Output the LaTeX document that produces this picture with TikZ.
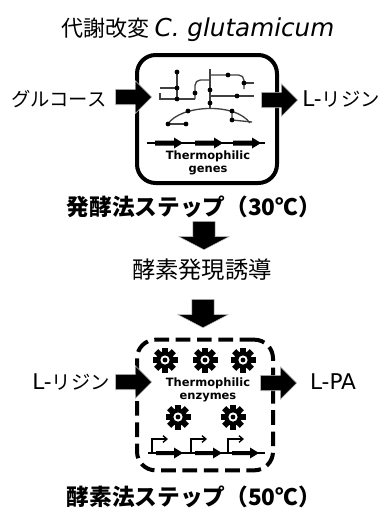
\documentclass[tikz,border=0pt]{standalone}
\usepackage{fontspec}
\usetikzlibrary{positioning, arrows.meta, shapes.arrows}
\newfontfamily\jpfont{Noto Sans CJK JP}
\newfontfamily\latfont{DejaVu Sans}[Scale=1.12]
\newfontfamily\thermofont{DejaVu Sans}

\tikzset{
  cellbox/.style={draw, line width=3pt, rounded corners=14pt, inner sep=0pt},
  fatarrow/.style={single arrow, fill=black, draw=black!25, line width=0.4pt,
    inner sep=5.6pt, single arrow head extend=6.4pt, minimum height=27pt},
  downarrow/.style={fatarrow, shape border rotate=270, inner sep=8.2pt,
    single arrow head extend=10.5pt, single arrow tip angle=125, minimum height=18.5pt},
  netline/.style={draw=black!75, line width=1pt},
  promoter/.style={line width=1pt, -{Straight Barb[length=3pt, width=5pt]}},
  thermo/.style={font=\thermofont\bfseries\fontsize{8.6}{9.6}\selectfont, align=center, inner sep=0pt},
}

\begin{document}
\begin{tikzpicture}[x=0.75pt, y=-0.75pt, font=\jpfont]
\useasboundingbox (0,0) rectangle (385,515);

\node (title) at (198,30) {\fontsize{16.5}{19}\selectfont 代謝改変 {\latfont\itshape C. glutamicum}};

% fermentation step: engineered cell
\node[cellbox, minimum width=105pt, minimum height=96pt] (ferm) at (207,119) {};

% metabolic network
\draw[netline] (177,71) -- (177,99);
\draw[netline] (160,88) -- (177,88);
\draw[netline] (160,93) -- (160,99) -- (195,99);
\draw[netline, rounded corners=4pt] (195,99) -- (195,80) -- (210,80);
\draw[netline] (210,69) -- (210,109);
\draw[netline, rounded corners=4pt] (210,75) -- (244,75) -- (244,89);
\draw[netline] (244,83) -- (254,83);
\draw[netline] (210,96) -- (254,96);
\draw[netline] (168,124) .. controls (180,105) and (235,102) .. (250,123);
\draw[netline] (168,124) -- (186,124);
\draw[netline] (232,111) -- (232,120) -- (252,122);
\foreach \p in {(177,72), (177,88), (177,99), (195,93), (210,90), (210,103),
                (228,75), (244,83), (237,96), (168,124), (186,124), (188,111),
                (232,111), (232,120)}
  \fill \p circle (2.4);

% gene cassette
\draw[line width=1.3pt] (147,143) -- (265,143);
\foreach \s in {155,195,233}
  \fill (\s,140.5) -- (\s+19,140.5) -- (\s+19,137.5) -- (\s+28,143)
        -- (\s+19,148.5) -- (\s+19,145.5) -- (\s,145.5) -- cycle;
\node[thermo] (genes) at (208,163) {Thermophilic\\genes};

\node[fatarrow, anchor=tip] (glcin) at (152,97) {};
\node[fatarrow, anchor=tip] (lysout) at (298,100) {};
\node (glc) at (59,99) {\fontsize{14.5}{17}\selectfont グルコース};
\node (lys1) at (341,99) {\fontsize{14.5}{17}\selectfont {\latfont L-}リジン};

\node (step1) at (194,207) {\fontsize{17}{20}\selectfont\bfseries 発酵法ステップ（30℃）};

\node[downarrow, anchor=tip] (down1) at (204,250) {};
\node (induce) at (202,270) {\fontsize{17.5}{20}\selectfont 酵素発現誘導};
\node[downarrow, anchor=tip] (down2) at (203,328) {};

% enzymatic step: dashed cell
\node[cellbox, dash pattern=on 11pt off 5pt, minimum width=102pt, minimum height=98pt] (enz) at (205,405) {};

\foreach \gx/\gy in {165/360, 205/360, 243/360, 178/417, 233/417} {
  \fill (\gx,\gy) circle (8.8);
  \foreach \a in {0,45,...,315}
    \fill[rotate around={\a:(\gx,\gy)}] (\gx-3,\gy-12.5) rectangle (\gx+3,\gy-7);
  \fill[white] (\gx,\gy) circle (4.6);
  \fill (\gx,\gy) circle (2.4);
}
\node[thermo] (enzymes) at (208,390) {Thermophilic\\enzymes};

% promoters and genes
\draw[line width=1.3pt] (148,453) -- (265,453);
\foreach \s in {152,191,228} {
  \draw[promoter] (\s,453) -- (\s,439) -- (\s+16,439);
  \fill (\s+4,451) -- (\s+22,451) -- (\s+22,447.5) -- (\s+31,453)
        -- (\s+22,458.5) -- (\s+22,455) -- (\s+4,455) -- cycle;
}

\node[fatarrow, anchor=tip] (lysin) at (152,382) {};
\node[fatarrow, anchor=tip] (paout) at (297,383) {};
\node (lys2) at (71,382) {\fontsize{14.5}{17}\selectfont {\latfont L-}リジン};
\node (pa) at (333,382) {\fontsize{14.5}{17}\selectfont\latfont L-PA};

\node (step2) at (194,497) {\fontsize{17}{20}\selectfont\bfseries 酵素法ステップ（50℃）};
\end{tikzpicture}
\end{document}
